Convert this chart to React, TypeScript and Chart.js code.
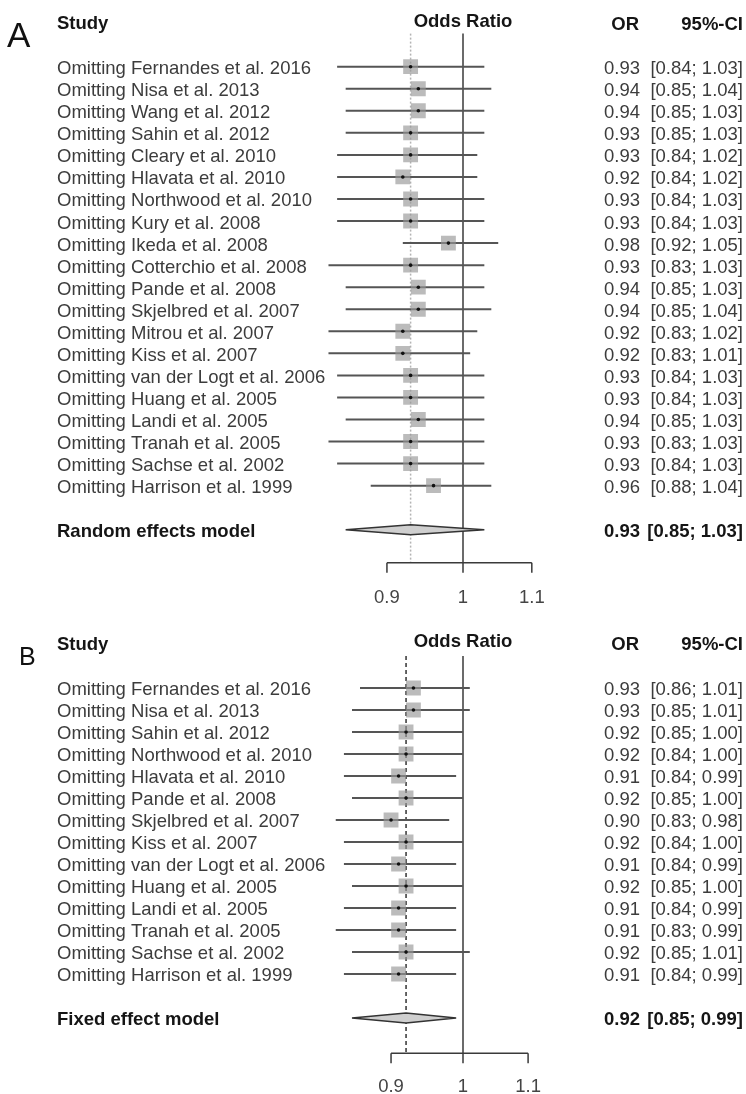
import React, { useEffect, useRef } from "react";
import { Chart, registerables } from "chart.js";
Chart.register(...registerables);

// ---------- DATA ----------
const studiesA = [
  "Omitting Fernandes et al. 2016",
  "Omitting Nisa et al. 2013",
  "Omitting Wang et al. 2012",
  "Omitting Sahin et al. 2012",
  "Omitting Cleary et al. 2010",
  "Omitting Hlavata et al. 2010",
  "Omitting Northwood et al. 2010",
  "Omitting Kury et al. 2008",
  "Omitting Ikeda et al. 2008",
  "Omitting Cotterchio et al. 2008",
  "Omitting Pande et al. 2008",
  "Omitting Skjelbred et al. 2007",
  "Omitting Mitrou et al. 2007",
  "Omitting Kiss et al. 2007",
  "Omitting van der Logt et al. 2006",
  "Omitting Huang et al. 2005",
  "Omitting Landi et al. 2005",
  "Omitting Tranah et al. 2005",
  "Omitting Sachse et al. 2002",
  "Omitting Harrison et al. 1999",
];
const orA = [0.93, 0.94, 0.94, 0.93, 0.93, 0.92, 0.93, 0.93, 0.98, 0.93, 0.94, 0.94, 0.92, 0.92, 0.93, 0.93, 0.94, 0.93, 0.93, 0.96];
const lowerA = [0.84, 0.85, 0.85, 0.85, 0.84, 0.84, 0.84, 0.84, 0.92, 0.83, 0.85, 0.85, 0.83, 0.83, 0.84, 0.84, 0.85, 0.83, 0.84, 0.88];
const upperA = [1.03, 1.04, 1.03, 1.03, 1.02, 1.02, 1.03, 1.03, 1.05, 1.03, 1.03, 1.04, 1.02, 1.01, 1.03, 1.03, 1.03, 1.03, 1.03, 1.04];
const modelLabelA = "Random effects model";
const modelA = [0.93, 0.85, 1.03]; // OR, lower, upper

const studiesB = [
  "Omitting Fernandes et al. 2016",
  "Omitting Nisa et al. 2013",
  "Omitting Sahin et al. 2012",
  "Omitting Northwood et al. 2010",
  "Omitting Hlavata et al. 2010",
  "Omitting Pande et al. 2008",
  "Omitting Skjelbred et al. 2007",
  "Omitting Kiss et al. 2007",
  "Omitting van der Logt et al. 2006",
  "Omitting Huang et al. 2005",
  "Omitting Landi et al. 2005",
  "Omitting Tranah et al. 2005",
  "Omitting Sachse et al. 2002",
  "Omitting Harrison et al. 1999",
];
const orB = [0.93, 0.93, 0.92, 0.92, 0.91, 0.92, 0.9, 0.92, 0.91, 0.92, 0.91, 0.91, 0.92, 0.91];
const lowerB = [0.86, 0.85, 0.85, 0.84, 0.84, 0.85, 0.83, 0.84, 0.84, 0.85, 0.84, 0.83, 0.85, 0.84];
const upperB = [1.01, 1.01, 1.0, 1.0, 0.99, 1.0, 0.98, 1.0, 0.99, 1.0, 0.99, 0.99, 1.01, 0.99];
const modelLabelB = "Fixed effect model";
const modelB = [0.92, 0.85, 0.99];

const xTicks = [0.9, 1, 1.1];
const xTickLabels = ["0.9", "1", "1.1"];
const headers = ["Study", "Odds Ratio", "OR", "95%-CI"];

// ---------- STYLE / LAYOUT ----------
const FONT = '"Liberation Sans", Arial, Helvetica, sans-serif';
const FS = 18.5;
const W = 746;

type Layout = {
  top: number;
  height: number;
  pad: { left: number; right: number; top: number; bottom: number };
  yMin: number;
  yMax: number;
  letter: string;
  letterSize: number;
  letterX: number;
  letterBase: number;
  studyBase: number;
  oddsBase: number;
  orBase: number;
  rowTextOffset: number;
  tickLen: number;
  tickLabelBase: number;
  refColor: string;
  refDash: number[];
};

const layoutA: Layout = {
  top: 0,
  height: 615,
  pad: { left: 301.9, right: 121.9, top: 33.6, bottom: 52.2 },
  yMin: -1.5,
  yMax: 22.5,
  letter: "A",
  letterSize: 35,
  letterX: 7,
  letterBase: 47,
  studyBase: 29,
  oddsBase: 27,
  orBase: 30,
  rowTextOffset: 7.5,
  tickLen: 10,
  tickLabelBase: 603,
  refColor: "#b4b4b4",
  refDash: [2, 2],
};

const layoutB: Layout = {
  top: 600,
  height: 494,
  pad: { left: 310.6, right: 130.6, top: 56.1, bottom: 40.8 },
  yMin: -1.45,
  yMax: 16.6,
  letter: "B",
  letterSize: 25,
  letterX: 19,
  letterBase: 65,
  studyBase: 50,
  oddsBase: 47,
  orBase: 50,
  rowTextOffset: 7,
  tickLen: 10,
  tickLabelBase: 492,
  refColor: "#333333",
  refDash: [4, 3],
};

type PanelData = {
  studies: string[];
  or: number[];
  lower: number[];
  upper: number[];
  modelLabel: string;
  model: number[];
};

function makeChart(canvas: HTMLCanvasElement, d: PanelData, L: Layout) {
  const n = d.studies.length;
  const modelRow = n + 1;
  const ciPoints: any[] = [];
  d.or.forEach((_, i) => {
    ciPoints.push({ x: d.lower[i], y: i });
    ciPoints.push({ x: d.upper[i], y: i });
    ciPoints.push({ x: null, y: null });
  });

  const plugin = {
    id: "forest",
    beforeDatasetsDraw(chart: any) {
      const { ctx, chartArea } = chart;
      const xs = chart.scales.x;
      ctx.save();
      ctx.strokeStyle = L.refColor;
      ctx.lineWidth = 1.5;
      ctx.setLineDash(L.refDash);
      const xm = xs.getPixelForValue(d.model[0]);
      ctx.beginPath();
      ctx.moveTo(xm, chartArea.top);
      ctx.lineTo(xm, chartArea.bottom);
      ctx.stroke();
      ctx.setLineDash([]);
      ctx.strokeStyle = "#3a3a3a";
      ctx.lineWidth = 1.5;
      const x1 = xs.getPixelForValue(1);
      ctx.beginPath();
      ctx.moveTo(x1, chartArea.top);
      ctx.lineTo(x1, chartArea.bottom);
      ctx.stroke();
      ctx.restore();
    },
    afterDatasetsDraw(chart: any) {
      const { ctx, chartArea } = chart;
      const xs = chart.scales.x;
      const ys = chart.scales.y;
      ctx.save();
      // diamond
      const ym = ys.getPixelForValue(modelRow);
      const dl = xs.getPixelForValue(d.model[1]);
      const dc = xs.getPixelForValue(d.model[0]);
      const du = xs.getPixelForValue(d.model[2]);
      ctx.beginPath();
      ctx.moveTo(dl, ym);
      ctx.lineTo(dc, ym - 5);
      ctx.lineTo(du, ym);
      ctx.lineTo(dc, ym + 5);
      ctx.closePath();
      ctx.fillStyle = "#cfcfcf";
      ctx.fill();
      ctx.strokeStyle = "#333";
      ctx.lineWidth = 1.5;
      ctx.stroke();

      // axis
      const yb = chartArea.bottom;
      ctx.strokeStyle = "#3a3a3a";
      ctx.lineWidth = 1.5;
      ctx.beginPath();
      ctx.moveTo(xs.getPixelForValue(xTicks[0]), yb);
      ctx.lineTo(xs.getPixelForValue(xTicks[xTicks.length - 1]), yb);
      xTicks.forEach((t) => {
        const px = xs.getPixelForValue(t);
        ctx.moveTo(px, yb);
        ctx.lineTo(px, yb + L.tickLen);
      });
      ctx.stroke();
      ctx.fillStyle = "#444";
      ctx.font = `${FS}px ${FONT}`;
      ctx.textAlign = "center";
      ctx.textBaseline = "alphabetic";
      xTicks.forEach((t, i) => {
        ctx.fillText(xTickLabels[i], xs.getPixelForValue(t), L.tickLabelBase);
      });

      // panel letter
      ctx.textAlign = "left";
      ctx.fillStyle = "#111";
      ctx.font = `${L.letterSize}px ${FONT}`;
      ctx.fillText(L.letter, L.letterX, L.letterBase);

      // headers
      ctx.font = `bold ${FS}px ${FONT}`;
      ctx.fillStyle = "#151515";
      ctx.textAlign = "left";
      ctx.fillText(headers[0], 57, L.studyBase);
      ctx.textAlign = "center";
      ctx.fillText(headers[1], xs.getPixelForValue(1), L.oddsBase);
      ctx.textAlign = "right";
      ctx.fillText(headers[2], 639, L.orBase);
      ctx.fillText(headers[3], 743, L.orBase);

      // rows
      ctx.font = `${FS}px ${FONT}`;
      ctx.fillStyle = "#3c3c3c";
      d.studies.forEach((s, i) => {
        const y = ys.getPixelForValue(i) + L.rowTextOffset;
        ctx.textAlign = "left";
        ctx.fillText(s, 57, y);
        ctx.textAlign = "right";
        ctx.fillText(d.or[i].toFixed(2), 640, y);
        ctx.fillText(`[${d.lower[i].toFixed(2)}; ${d.upper[i].toFixed(2)}]`, 743, y);
      });
      // model row
      ctx.font = `bold ${FS}px ${FONT}`;
      ctx.fillStyle = "#151515";
      const yM = ym + L.rowTextOffset;
      ctx.textAlign = "left";
      ctx.fillText(d.modelLabel, 57, yM);
      ctx.textAlign = "right";
      ctx.fillText(d.model[0].toFixed(2), 640, yM);
      ctx.fillText(`[${d.model[1].toFixed(2)}; ${d.model[2].toFixed(2)}]`, 743, yM);
      ctx.restore();
    },
  };

  return new Chart(canvas, {
    type: "scatter",
    data: {
      datasets: [
        {
          label: "estimate",
          data: d.or.map((v, i) => ({ x: v, y: i })),
          pointStyle: "circle",
          pointRadius: 1.8,
          backgroundColor: "#111",
          borderWidth: 0,
          order: 0,
        },
        {
          label: "weight",
          data: d.or.map((v, i) => ({ x: v, y: i })),
          pointStyle: "rect",
          pointRadius: 10.5,
          backgroundColor: "rgba(150,150,150,0.65)",
          borderWidth: 0,
          order: 1,
        },
        {
          label: "ci",
          data: ciPoints,
          showLine: true,
          spanGaps: false,
          borderColor: "#555",
          borderWidth: 2,
          pointRadius: 0,
          order: 2,
        },
      ],
    } as any,
    options: {
      animation: false,
      responsive: false,
      events: [],
      layout: { padding: L.pad },
      plugins: { legend: { display: false }, tooltip: { enabled: false } },
      scales: {
        x: { type: "logarithmic", min: 0.8, max: 1.25, bounds: "data", display: false },
        y: { type: "linear", min: L.yMin, max: L.yMax, reverse: true, display: false },
      },
    } as any,
    plugins: [plugin],
  });
}

export default function App() {
  const refA = useRef<HTMLCanvasElement>(null);
  const refB = useRef<HTMLCanvasElement>(null);
  useEffect(() => {
    const a = makeChart(
      refA.current!,
      { studies: studiesA, or: orA, lower: lowerA, upper: upperA, modelLabel: modelLabelA, model: modelA },
      layoutA
    );
    const b = makeChart(
      refB.current!,
      { studies: studiesB, or: orB, lower: lowerB, upper: upperB, modelLabel: modelLabelB, model: modelB },
      layoutB
    );
    return () => {
      a.destroy();
      b.destroy();
    };
  }, []);
  return (
    <div style={{ position: "absolute", left: 0, top: 0, width: W, height: 1094, background: "#fff" }}>
      <canvas
        ref={refA}
        width={W}
        height={layoutA.height}
        style={{ position: "absolute", left: 0, top: layoutA.top, width: W, height: layoutA.height }}
      />
      <canvas
        ref={refB}
        width={W}
        height={layoutB.height}
        style={{ position: "absolute", left: 0, top: layoutB.top, width: W, height: layoutB.height }}
      />
    </div>
  );
}
